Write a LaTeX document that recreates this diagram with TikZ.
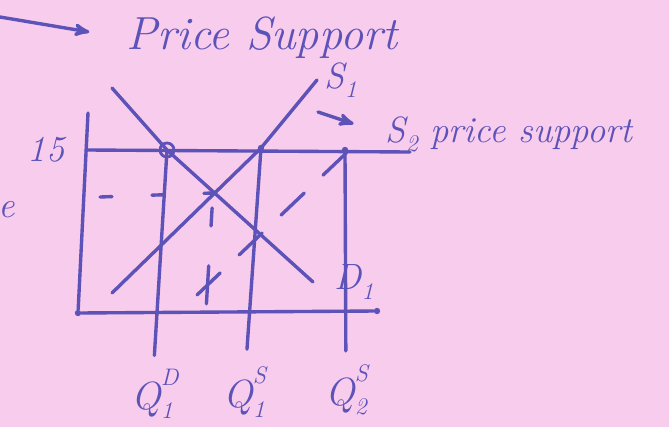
\documentclass[tikz,border=0pt]{standalone}
\usetikzlibrary{arrows,positioning}
\definecolor{paper}{RGB}{248,204,236}
\definecolor{ink}{RGB}{92,82,184}
\newcommand{\smallidx}[1]{{\fontsize{17}{17}\selectfont #1}}
\newcommand{\lowidx}[1]{\raisebox{-0.25em}{\smallidx{#1}}}
\newcommand{\quant}[2]{Q\rlap{\raisebox{0.6em}{\smallidx{#1}}}\lowidx{#2}}
\tikzset{
  pen/.style={draw=ink,line width=2.4pt,line cap=round,line join=round},
  hand/.style={text=ink,font=\itshape\fontsize{26}{30}\selectfont,inner sep=1pt},
  bighand/.style={hand,font=\itshape\fontsize{33}{38}\selectfont},
  qlab/.style={hand,font=\itshape\fontsize{28}{32}\selectfont},
  eqring/.style={circle,draw=ink,line width=2pt,inner sep=0pt,minimum size=3.5mm},
  inkdot/.style={circle,fill=ink,inner sep=0pt,minimum size=1.6mm}
}

\begin{document}
\begin{tikzpicture}[x=0.025cm,y=-0.025cm,>=stealth']
  \fill[paper] (0,0) rectangle (669,427);
  \useasboundingbox (0,0) rectangle (669,427);

  % title
  \node[bighand] (title) at (262,38) {Price Support};
  \coordinate (tail) at (0,17);
  \draw[pen,->,shorten >=9mm] (tail) -- (title.west);

  % axes
  \node[inkdot] (o) at (78,313) {};
  \node[inkdot] (xe) at (377,311) {};
  \coordinate (yt) at (88,113);
  \draw[pen] (yt) -- (o) -- (xe);

  % support price line
  \coordinate (yp) at (86,150);
  \coordinate (pe) at (410,152);
  \draw[pen] (yp) -- (pe);
  \node[hand,left=5mm of yp] (p15) {15};
  \node[hand,anchor=west] (elab) at (-3,210) {e};

  % demand and supply
  \node[eqring] (eq) at (167,150) {};
  \node[inkdot] (a) at (261,148) {};
  \node[inkdot] (b) at (345,150) {};
  \coordinate (dt) at (112,88);
  \coordinate (de) at (313,282);
  \coordinate (sb) at (112,293);
  \coordinate (st) at (317,80);
  \draw[pen] (dt) -- (eq.center) -- (de);
  \draw[pen] (sb) -- (a.center) -- (st);
  \node[hand,right=1.5mm of st] (s1lab) {S\lowidx{1}};
  \node[hand,right=5mm of de] (d1lab) {D\lowidx{1}};

  % shifted supply under support
  \coordinate (s2b) at (197,295);
  \coordinate (s2t) at (360,140);
  \draw[pen,dash pattern=on 8mm off 6.5mm] (s2b) -- (s2t);
  \node[hand,anchor=base west] (s2lab) at (384,142) {S\lowidx{2} price support};
  \coordinate (s2tail) at (318,112);
  \draw[pen,->,shorten >=8mm] (s2tail) -- (s2lab.west);

  % free market equilibrium
  \coordinate (e0) at (213,193);
  \coordinate (ye) at (100,197);
  \coordinate (e0b) at (206,311);
  \draw[pen,dash pattern=on 3mm off 10mm] (ye) -- (e0);
  \draw[pen,dash pattern=on 4.5mm off 10mm on 9.5mm off 3.75mm,dash phase=24mm] (e0) -- (e0b);

  % quantities
  \node[qlab] (q1d) at (152,394) {\quant{D}{1}};
  \node[qlab] (q1s) at (244,392) {\quant{S}{1}};
  \node[qlab] (q2s) at (346,390) {\quant{S}{2}};
  \draw[pen,shorten >=3mm] (eq.center) -- (q1d);
  \draw[pen,shorten >=4mm] (a.center) -- (q1s);
  \draw[pen,shorten >=3mm] (b.center) -- (q2s);
\end{tikzpicture}
\end{document}
